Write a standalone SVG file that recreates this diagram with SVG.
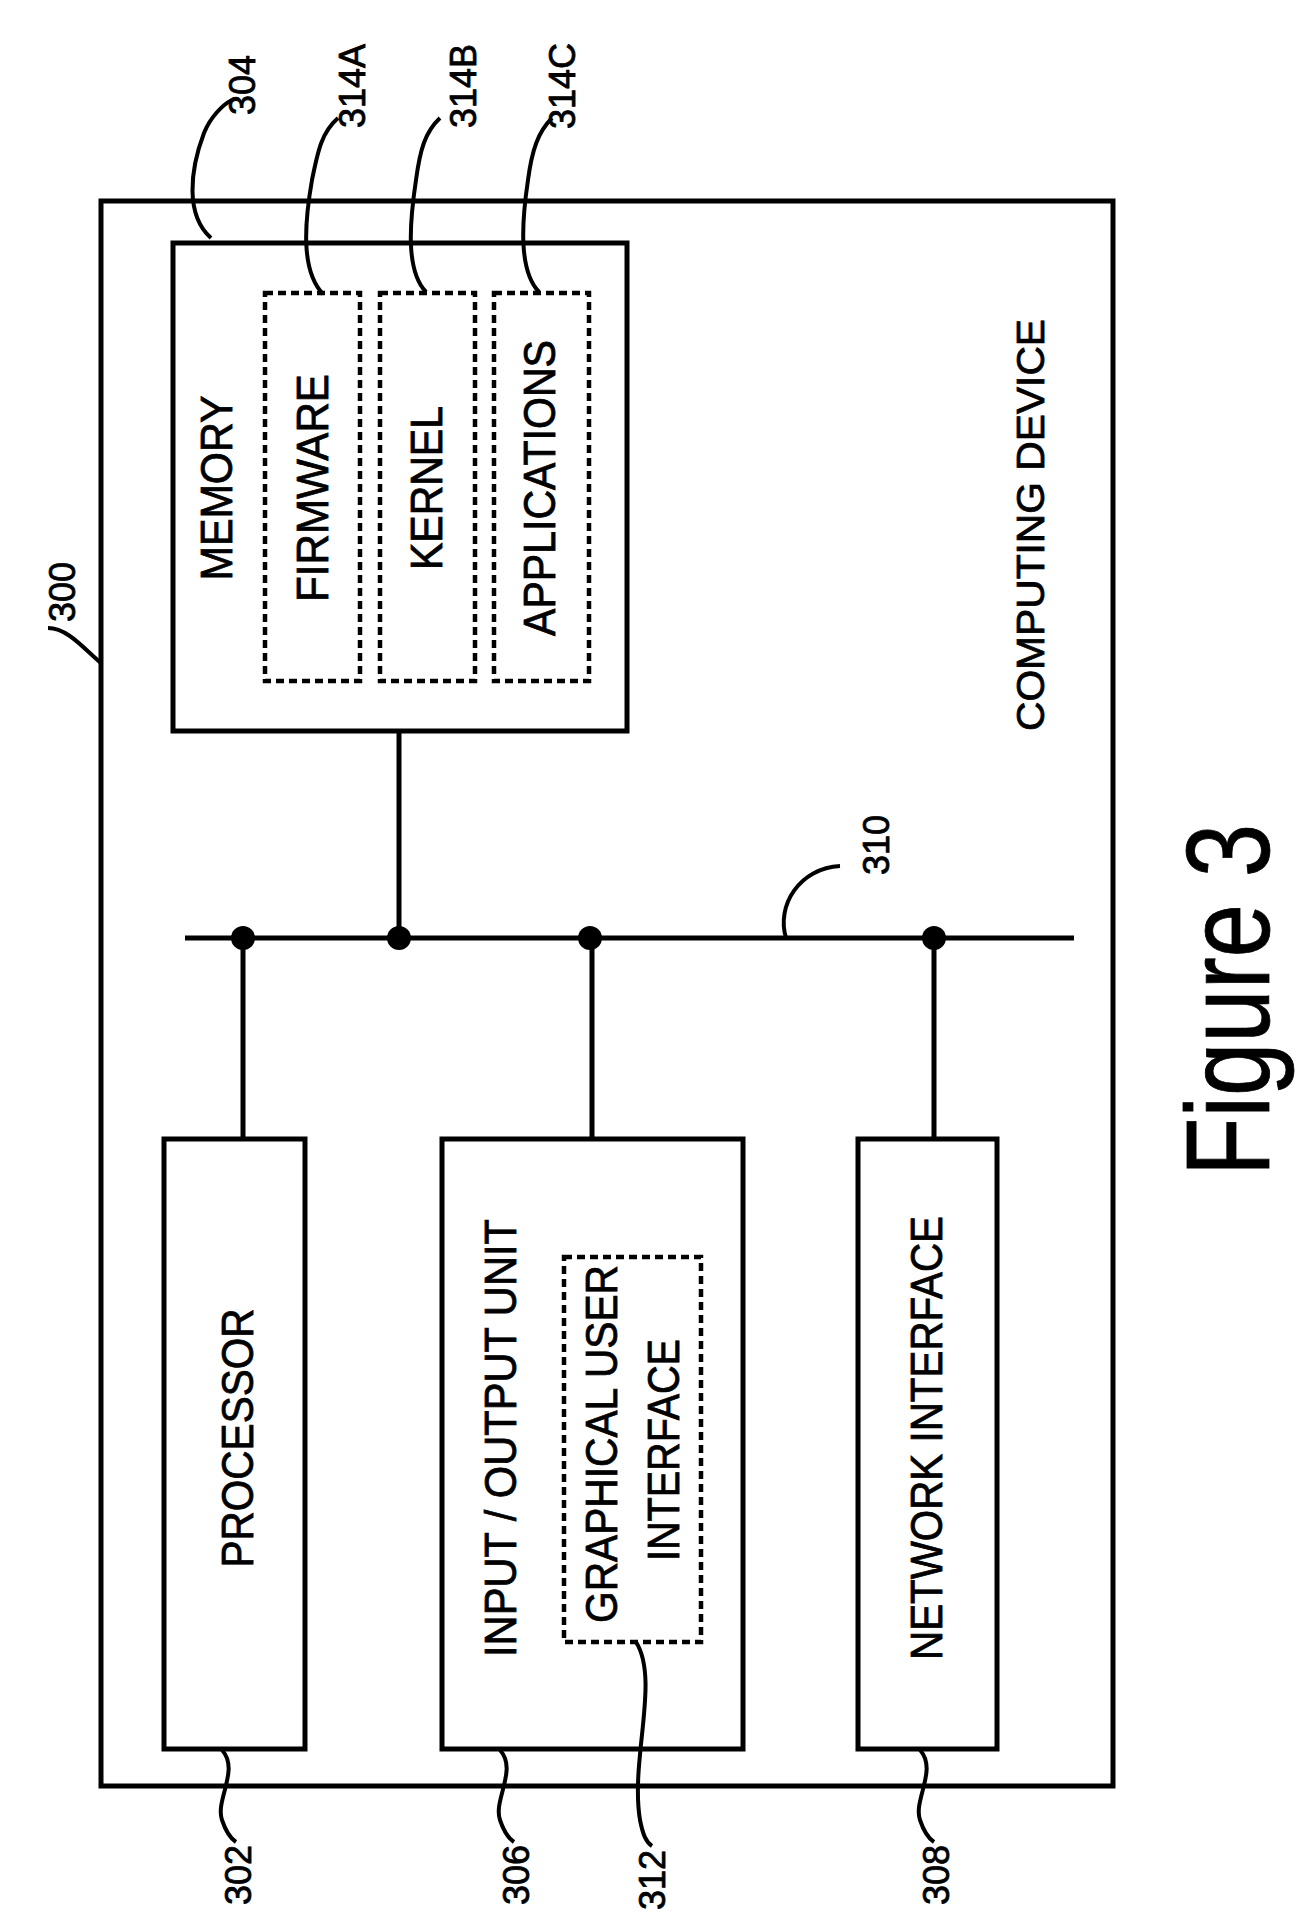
<svg xmlns="http://www.w3.org/2000/svg" width="1296" height="1925" viewBox="0 0 1296 1925">
<style>
.b{fill:none;stroke:#000;stroke-width:5}
.d{fill:none;stroke:#000;stroke-width:4.5;stroke-dasharray:8 5}
.l{fill:none;stroke:#000;stroke-width:4}
text{font-family:"Liberation Sans",Arial,sans-serif;fill:#000;stroke:#000;stroke-width:0.8;text-anchor:middle;dominant-baseline:central}
.t{font-size:44px}
.n{font-size:36px}
</style>
<rect width="1296" height="1925" fill="#fff"/>
<g id="device"><rect class="b" x="101" y="201" width="1012" height="1585"/>
<text transform="translate(1031,525) rotate(-90)" textLength="412" lengthAdjust="spacingAndGlyphs" style="font-size:38px">COMPUTING DEVICE</text></g>
<g id="memory"><rect class="b" x="173" y="243" width="454" height="488"/>
<text class="t" transform="translate(216,488) rotate(-90)" textLength="185" lengthAdjust="spacingAndGlyphs">MEMORY</text></g>
<g id="firmware"><rect class="d" x="265" y="293" width="95" height="388"/>
<text class="t" transform="translate(312,488) rotate(-90)" textLength="228" lengthAdjust="spacingAndGlyphs">FIRMWARE</text></g>
<g id="kernel"><rect class="d" x="380" y="293" width="95" height="388"/>
<text class="t" transform="translate(426,488) rotate(-90)" textLength="164" lengthAdjust="spacingAndGlyphs">KERNEL</text></g>
<g id="applications"><rect class="d" x="494" y="293" width="95" height="388"/>
<text class="t" transform="translate(539,488) rotate(-90)" textLength="296" lengthAdjust="spacingAndGlyphs">APPLICATIONS</text></g>
<g id="processor"><rect class="b" x="164" y="1139" width="141" height="610"/>
<text class="t" transform="translate(237,1438) rotate(-90)" textLength="259" lengthAdjust="spacingAndGlyphs">PROCESSOR</text></g>
<g id="io"><rect class="b" x="442" y="1139" width="301" height="610"/>
<text class="t" transform="translate(500,1438) rotate(-90)" textLength="438" lengthAdjust="spacingAndGlyphs">INPUT / OUTPUT UNIT</text></g>
<g id="gui"><rect class="d" x="564" y="1257" width="137" height="385"/>
<text class="t" transform="translate(601,1444) rotate(-90)" textLength="358" lengthAdjust="spacingAndGlyphs">GRAPHICAL USER</text>
<text class="t" transform="translate(663,1450) rotate(-90)" textLength="222" lengthAdjust="spacingAndGlyphs">INTERFACE</text></g>
<g id="network"><rect class="b" x="858" y="1139" width="139" height="610"/>
<text class="t" transform="translate(926,1438) rotate(-90)" textLength="444" lengthAdjust="spacingAndGlyphs">NETWORK INTERFACE</text></g>
<g id="connectors">
<line class="b" x1="185" y1="938" x2="1074" y2="938"/>
<line class="b" x1="243" y1="938" x2="243" y2="1139"/>
<line class="b" x1="399" y1="731" x2="399" y2="938"/>
<line class="b" x1="592" y1="938" x2="592" y2="1139"/>
<line class="b" x1="934" y1="938" x2="934" y2="1139"/>
<circle cx="243" cy="938" r="12"/><circle cx="399" cy="938" r="12"/><circle cx="590" cy="938" r="12"/><circle cx="934" cy="938" r="12"/>
</g>
<g id="labels">
<path class="l" d="M211,238 C185,215 190,170 204,133 C210,118 222,105 232,100"/>
<text class="n" transform="translate(242,85) rotate(-90)">304</text>
<path class="l" d="M323,294 C300,270 305,220 312,180 C318,150 322,132 338,118"/>
<text class="n" transform="translate(352,86) rotate(-90)">314A</text>
<path class="l" d="M426,292 C405,270 410,220 416,180 C420,150 425,132 440,118"/>
<text class="n" transform="translate(463,86) rotate(-90)">314B</text>
<path class="l" d="M539,292 C518,270 522,220 528,180 C532,150 538,132 552,118"/>
<text class="n" transform="translate(562,86) rotate(-90)">314C</text>
<path class="l" d="M101,663 C85,650 68,628 48,628"/>
<text class="n" transform="translate(62,592) rotate(-90)">300</text>
<path class="l" d="M786,938 C776,905 800,868 840,866"/>
<text class="n" transform="translate(876,845) rotate(-90)">310</text>
<path class="l" d="M222,1750 C240,1770 215,1800 222,1820 C226,1832 230,1838 236,1842"/>
<text class="n" transform="translate(238,1875) rotate(-90)">302</text>
<path class="l" d="M500,1750 C518,1770 493,1800 500,1820 C504,1832 508,1838 514,1842"/>
<text class="n" transform="translate(516,1875) rotate(-90)">306</text>
<path class="l" d="M636,1642 C660,1680 630,1760 640,1820 C643,1835 646,1842 652,1846"/>
<text class="n" transform="translate(652,1880) rotate(-90)">312</text>
<path class="l" d="M920,1750 C938,1770 913,1800 920,1820 C924,1832 928,1838 934,1842"/>
<text class="n" transform="translate(936,1875) rotate(-90)">308</text>
</g>
<text transform="translate(1228,1000) rotate(-90)" style="font-size:118px" textLength="352" lengthAdjust="spacingAndGlyphs">Figure 3</text>
</svg>
